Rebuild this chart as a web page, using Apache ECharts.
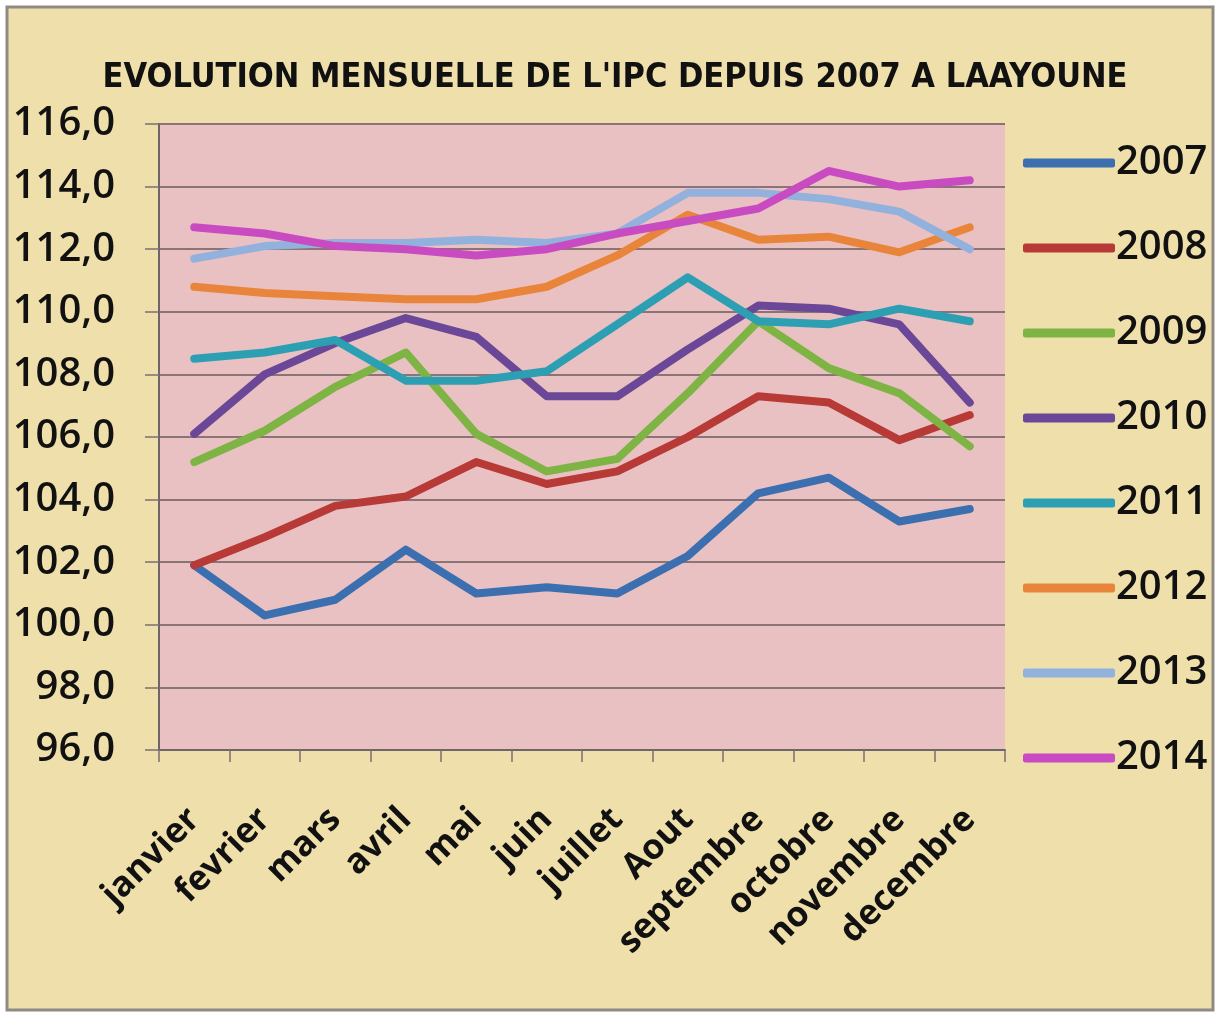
<!DOCTYPE html>
<html>
<head>
<meta charset="utf-8">
<script src="https://cdn.jsdelivr.net/npm/echarts@6/dist/echarts.min.js"></script>
<style>
  html, body { margin: 0; padding: 0; background: #fff; }
  #chart { width: 1219px; height: 1014px; }
</style>
</head>
<body>
<div id="chart"></div>
<script>
const months = ['janvier', 'fevrier', 'mars', 'avril', 'mai', 'juin', 'juillet', 'Aout', 'septembre', 'octobre', 'novembre', 'decembre']
const years = ['2007', '2008', '2009', '2010', '2011', '2012', '2013', '2014']

const ipc2007 = [101.9, 100.3, 100.8, 102.4, 101.0, 101.2, 101.0, 102.2, 104.2, 104.7, 103.3, 103.7]
const ipc2008 = [101.9, 102.8, 103.8, 104.1, 105.2, 104.5, 104.9, 106.0, 107.3, 107.1, 105.9, 106.7]
const ipc2009 = [105.2, 106.2, 107.6, 108.7, 106.1, 104.9, 105.3, 107.4, 109.7, 108.2, 107.4, 105.7]
const ipc2010 = [106.1, 108.0, 109.0, 109.8, 109.2, 107.3, 107.3, 108.8, 110.2, 110.1, 109.6, 107.1]
const ipc2011 = [108.5, 108.7, 109.1, 107.8, 107.8, 108.1, 109.6, 111.1, 109.7, 109.6, 110.1, 109.7]
const ipc2012 = [110.8, 110.6, 110.5, 110.4, 110.4, 110.8, 111.8, 113.1, 112.3, 112.4, 111.9, 112.7]
const ipc2013 = [111.7, 112.1, 112.2, 112.2, 112.3, 112.2, 112.5, 113.8, 113.8, 113.6, 113.2, 112.0]
const ipc2014 = [112.7, 112.5, 112.1, 112.0, 111.8, 112.0, 112.5, 112.9, 113.3, 114.5, 114.0, 114.2]

const yTicks = { min: 96, max: 116, step: 2 }
const seriesValues = [ipc2007, ipc2008, ipc2009, ipc2010, ipc2011, ipc2012, ipc2013, ipc2014]
const colors = ['#3b6fb0', '#b83a37', '#7db443', '#6b4798', '#2c9fb3', '#e9853a', '#92b1dd', '#c94bc1']

const labelFont = "'Open Sans', 'Noto Sans', sans-serif"

const chart = echarts.init(document.getElementById('chart'))
chart.setOption({
  backgroundColor: '#ffffff',
  color: colors,
  animation: false,
  graphic: [
    {
      type: 'rect',
      z: -10,
      silent: true,
      shape: { x: 7, y: 7, width: 1206, height: 1003 },
      style: { fill: '#efdfab', stroke: '#8f8a84', lineWidth: 3 },
    },
  ],
  title: {
    text: "EVOLUTION MENSUELLE DE L'IPC DEPUIS 2007 A LAAYOUNE",
    left: 610,
    top: 56,
    textAlign: 'center',
    textStyle: {
      fontFamily: "'Liberation Sans Narrow', 'DejaVu Sans Condensed', 'Open Sans', sans-serif",
      fontWeight: 'bold',
      fontSize: 34,
      color: '#111',
    },
  },
  legend: {
    orient: 'vertical',
    left: 1018,
    top: 136,
    icon: 'roundRect',
    itemWidth: 92,
    itemHeight: 9,
    itemGap: 41,
    data: years,
    textStyle: {
      fontFamily: labelFont,
      fontWeight: 600,
      fontSize: 40,
      lineHeight: 44,
      color: '#111',
      padding: [0, 0, 0, -4],
    },
  },
  grid: {
    left: 159,
    right: 214,
    top: 124,
    bottom: 264,
    show: true,
    backgroundColor: '#e9c1c2',
    borderWidth: 0,
  },
  xAxis: {
    type: 'category',
    data: months,
    boundaryGap: true,
    axisLine: { show: true, lineStyle: { color: '#6e6566', width: 2 } },
    axisTick: { show: true, interval: 0, length: 12, lineStyle: { color: '#7a7070', width: 1.5 } },
    axisLabel: {
      interval: 0,
      rotate: 45,
      margin: 64,
      fontFamily: labelFont,
      fontWeight: 'bold',
      fontSize: 35,
      color: '#111',
    },
  },
  yAxis: {
    type: 'value',
    min: yTicks.min,
    max: yTicks.max,
    interval: yTicks.step,
    axisLine: { show: true, lineStyle: { color: '#6e6566', width: 2 } },
    axisTick: { show: true, length: 14, lineStyle: { color: '#7a7070', width: 1.5 } },
    splitLine: { show: true, lineStyle: { color: '#8a7475', width: 2 } },
    axisLabel: {
      margin: 44,
      fontFamily: labelFont,
      fontWeight: 600,
      fontSize: 40,
      color: '#111',
      formatter: v => v.toFixed(1).replace('.', ','),
    },
  },
  series: years.map((y, i) => ({
    name: y,
    type: 'line',
    data: seriesValues[i],
    showSymbol: false,
    symbol: 'none',
    lineStyle: { width: 8, cap: 'round', join: 'round' },
  })),
})
</script>
</body>
</html>
